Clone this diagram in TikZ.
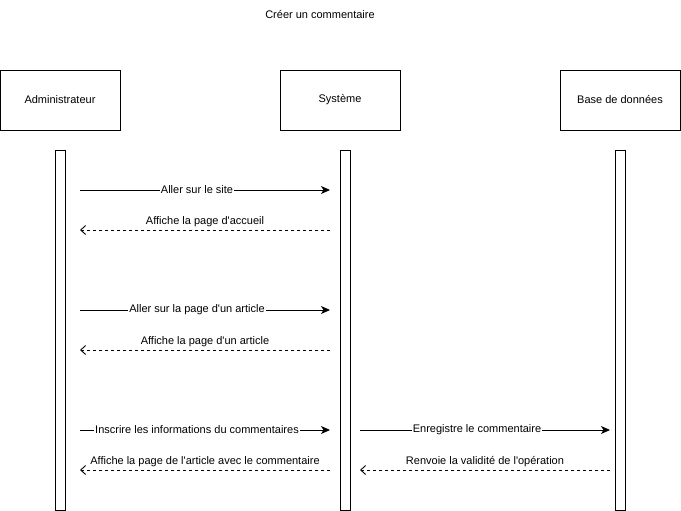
\documentclass[tikz,border=0pt]{standalone}
\usepackage{fontspec}
\setmainfont{Liberation Sans}[Ligatures=TeXOff]
\usetikzlibrary{arrows.meta,positioning}
\tikzset{
  actor/.style={draw,minimum width=120pt,minimum height=60pt,inner sep=0pt},
  bar/.style={draw,fill=white,minimum width=10pt,minimum height=360pt,inner sep=0pt},
  call/.style={-{Stealth[length=9pt,width=8pt,inset=2.5pt]}},
  reply/.style={dash pattern=on 3pt off 3pt,-{Straight Barb[length=5pt,width=9pt]}},
  calllabel/.style={fill=white,inner sep=1pt,xshift=-8pt},
  replylabel/.style={above,inner sep=0pt,yshift=2.5pt}
}
\begin{document}
\begin{tikzpicture}[x=1pt,y=-1pt,line width=0.9pt,font=\fontsize{11}{13}\selectfont]
\useasboundingbox (0,0) rectangle (681,511);
%title
\node (titre) at (320,15) {Créer un commentaire};
%participants
\node[actor] (admin) at (60,100) {Administrateur};
\node[actor] (sys) at (340,100) {Système};
\node[actor] (bdd) at (620,100) {Base de données};
%activation bars
\node[bar] (badmin) at (60,330) {};
\node[bar] (bsys) at (345,330) {};
\node[bar] (bbdd) at (620,330) {};
%message ends
\foreach \y/\n in {190/1,230/2,310/3,350/4,430/5,470/6}{
\coordinate (a\n) at (80,\y);
\coordinate (s\n) at (330,\y);
}
\coordinate (t5) at (360,430);
\coordinate (d5) at (610,430);
\coordinate (t6) at (360,470);
\coordinate (d6) at (610,470);
%home page
\draw[call] (a1) -- node[calllabel]{Aller sur le site} (s1);
\draw[reply] (s2) -- node[replylabel]{Affiche la page d'accueil} (a2);
%article
\draw[call] (a3) -- node[calllabel]{Aller sur la page d'un article} (s3);
\draw[reply] (s4) -- node[replylabel]{Affiche la page d'un article} (a4);
%comment
\draw[call] (a5) -- node[calllabel]{Inscrire les informations du commentaires} (s5);
\draw[reply] (s6) -- node[replylabel]{Affiche la page de l'article avec le commentaire} (a6);
\draw[call] (t5) -- node[calllabel]{Enregistre le commentaire} (d5);
\draw[reply] (d6) -- node[replylabel]{Renvoie la validité de l'opération} (t6);
\end{tikzpicture}
\end{document}
